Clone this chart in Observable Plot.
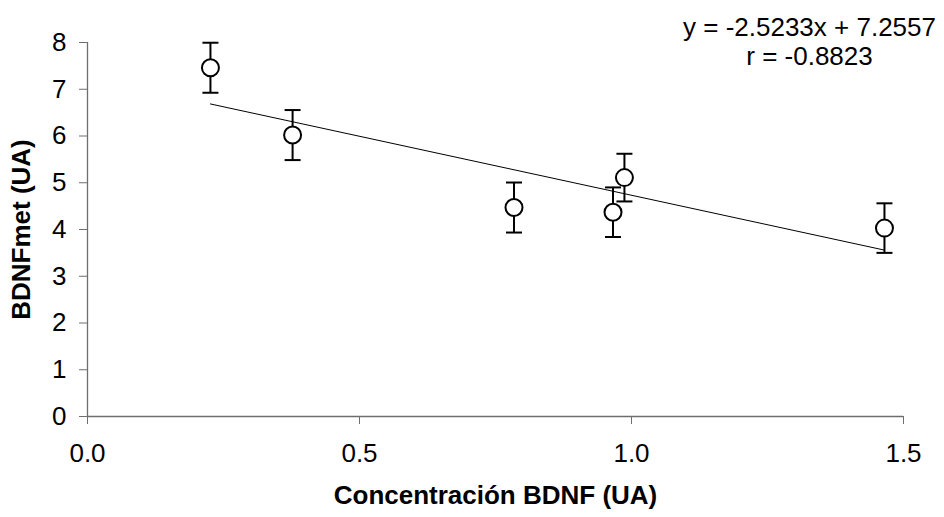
<!DOCTYPE html>
<html>
<head>
<meta charset="utf-8">
<script src="https://cdn.jsdelivr.net/npm/d3@7"></script>
<script src="https://cdn.jsdelivr.net/npm/@observablehq/plot@0.6"></script>
<style>
  html, body { margin: 0; padding: 0; background: #fff; }
  #chart svg { display: block; }
</style>
</head>
<body>
<div id="chart"></div>
<script>
// ---- data ----
const concentration = [0.226, 0.377, 0.784, 0.966, 0.987, 1.465]; // Concentración BDNF (UA)
const bdnfMet       = [7.46, 6.02, 4.47, 4.37, 5.11, 4.03];      // BDNFmet (UA)
const errorSize     = [0.535, 0.535, 0.535, 0.53, 0.51, 0.53];   // error bar half-length
const fitSlope = -2.5233;
const fitIntercept = 7.2557;
const fitR = -0.8823;
const xTicks = [0, 0.5, 1.0, 1.5];
const yTicks = [0, 1, 2, 3, 4, 5, 6, 7, 8];
const xLabel = "Concentración BDNF (UA)";
const yLabel = "BDNFmet (UA)";

const points = concentration.map((x, i) => ({
  x, y: bdnfMet[i], lo: bdnfMet[i] - errorSize[i], hi: bdnfMet[i] + errorSize[i]
}));
const xMin = d3.min(concentration), xMax = d3.max(concentration);
const trend = [xMin, xMax].map(x => ({x, y: fitSlope * x + fitIntercept}));
const eqText = `y = ${fitSlope.toFixed(4)}x + ${fitIntercept.toFixed(4)}\nr = ${fitR.toFixed(4)}`;

const capSymbol = {
  draw(context, size) {
    const w = Math.sqrt(size / Math.PI);
    context.moveTo(-w, 0);
    context.lineTo(w, 0);
  }
};

const axisColor = "#6e6e6e";
const font = "'Liberation Sans', Arial, sans-serif";

const chart = Plot.plot({
  width: 944,
  height: 517,
  marginLeft: 87,
  marginRight: 41,
  marginTop: 42,
  marginBottom: 101,
  style: { fontFamily: font, background: "#fff", color: "#000" },
  x: { domain: [0, 1.5] },
  y: { domain: [0, 8] },
  marks: [
    Plot.axisY(yTicks, {
      tickSize: 8, tickPadding: 13, fontSize: 26, stroke: axisColor, fill: "#000",
      tickFormat: d3.format("d"), label: null
    }),
    Plot.axisX(xTicks, {
      tickSize: 8, tickPadding: 19, fontSize: 26, stroke: axisColor, fill: "#000",
      tickFormat: d3.format(".1f"), label: null
    }),
    Plot.ruleX([0], { y1: 0, y2: 8, stroke: axisColor, strokeWidth: 1.3 }),
    Plot.ruleY([0], { x1: 0, x2: 1.5, stroke: axisColor, strokeWidth: 1.3 }),
    Plot.line(trend, { x: "x", y: "y", stroke: "#000", strokeWidth: 1 }),
    Plot.ruleX(points, { x: "x", y1: "lo", y2: "hi", stroke: "#000", strokeWidth: 2 }),
    Plot.dot(points, { x: "x", y: "hi", symbol: capSymbol, r: 8, stroke: "#000", strokeWidth: 2, fill: "none" }),
    Plot.dot(points, { x: "x", y: "lo", symbol: capSymbol, r: 8, stroke: "#000", strokeWidth: 2, fill: "none" }),
    Plot.dot(points, { x: "x", y: "y", r: 8.5, stroke: "#000", strokeWidth: 2, fill: "#fff" }),
    Plot.text([xLabel], {
      text: d => d, frameAnchor: "bottom", dy: 79, fontSize: 26, fontWeight: "bold",
      lineAnchor: "middle", textAnchor: "middle", fill: "#000"
    }),
    Plot.text([yLabel], {
      text: d => d, frameAnchor: "left", dx: -66, rotate: -90, fontSize: 26, fontWeight: "bold",
      lineAnchor: "middle", textAnchor: "middle", fill: "#000"
    }),
    Plot.text([eqText], {
      text: d => d, frameAnchor: "top", dx: 314, dy: -1, fontSize: 26, lineHeight: 1.12,
      lineAnchor: "middle", textAnchor: "middle", fill: "#000"
    })
  ]
});
document.getElementById("chart").appendChild(chart);
</script>
</body>
</html>
